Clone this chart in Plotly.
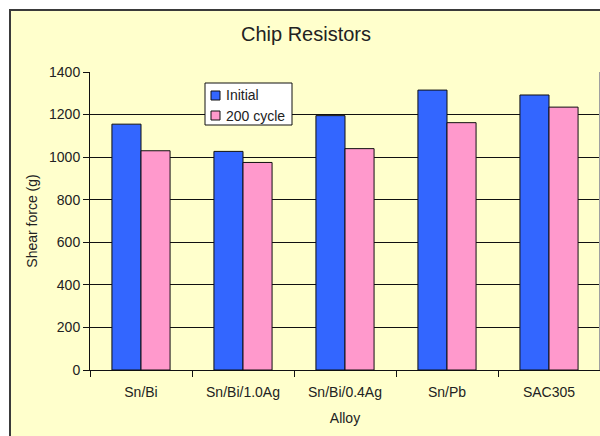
import plotly.graph_objects as go

# Shear force of chip resistor joints per solder alloy
alloys = ["Sn/Bi", "Sn/Bi/1.0Ag", "Sn/Bi/0.4Ag", "Sn/Pb", "SAC305"]
initial = [1155, 1027, 1195, 1315, 1292]
after_200_cycles = [1030, 975, 1040, 1162, 1235]
y_ticks = [0, 200, 400, 600, 800, 1000, 1200, 1400]
series_names = ["Initial", "200 cycle"]
series_colors = ["#3366FF", "#FF99CC"]

FONT = "Liberation Sans, Arial, sans-serif"
TEXT = "#222222"
EDGE = "#111111"

fig = go.Figure()
for name, vals, col in zip(series_names, [initial, after_200_cycles], series_colors):
    fig.add_trace(go.Bar(
        name=name, x=alloys, y=vals, showlegend=False,
        marker=dict(color=col, line=dict(color=EDGE, width=1)),
    ))

# Plot area geometry in pixels
L, T, W, H = 90, 72, 600, 436
BOTTOM = 370
PW, PH = W - L, BOTTOM - T


def px_x(p):
    return (p - L) / PW


def px_y(p):
    return (BOTTOM - p) / PH


shapes = [
    # yellow chart area with a dark frame
    dict(type="rect", xref="paper", yref="paper", layer="below",
         x0=px_x(10), x1=px_x(640), y0=px_y(480), y1=px_y(10),
         fillcolor="#FFFFCC", line=dict(color="#3a3a3a", width=2)),
    # thin grey right edge of the plot area
    dict(type="line", xref="paper", yref="paper", layer="above",
         x0=px_x(599.5), x1=px_x(599.5), y0=0, y1=1,
         line=dict(color="#a0a0a0", width=1)),
    # legend box
    dict(type="rect", xref="paper", yref="paper", layer="above",
         x0=px_x(205), x1=px_x(292), y0=px_y(125), y1=px_y(83),
         fillcolor="white", line=dict(color=EDGE, width=1)),
]
annotations = []
for i, (name, col) in enumerate(zip(series_names, series_colors)):
    top = 91 + 20 * i
    shapes.append(dict(
        type="rect", xref="paper", yref="paper", layer="above",
        x0=px_x(211), x1=px_x(220), y0=px_y(top + 9), y1=px_y(top),
        fillcolor=col, line=dict(color=EDGE, width=1)))
    annotations.append(dict(
        text=name, xref="paper", yref="paper", showarrow=False,
        x=px_x(224), y=px_y(top + 4.5), xanchor="left", yanchor="middle",
        font=dict(family=FONT, size=14, color=TEXT)))

fig.update_layout(
    width=W, height=H,
    margin=dict(l=L, r=0, t=T, b=H - BOTTOM, pad=0),
    paper_bgcolor="white",
    plot_bgcolor="white",
    barmode="group",
    bargap=0.43,
    bargroupgap=0,
    font=dict(family=FONT, size=14, color=TEXT),
    title=dict(
        text="Chip Resistors", x=px_x(306), xref="paper", xanchor="center",
        y=1 - 34 / H, yanchor="middle",
        font=dict(family=FONT, size=20, color=TEXT),
    ),
    shapes=shapes,
    annotations=annotations,
    showlegend=False,
)

fig.update_yaxes(
    range=[0, 1400], tickvals=y_ticks, ticks="outside", ticklen=6,
    tickcolor=EDGE, showline=True, linecolor=EDGE, linewidth=1,
    showgrid=True, gridcolor=EDGE, gridwidth=1, zeroline=False,
    tickfont=dict(family=FONT, size=14, color=TEXT),
    title=dict(text="Shear force (g)", standoff=8,
               font=dict(family=FONT, size=14, color=TEXT)),
)
fig.update_xaxes(
    ticks="outside", tickson="boundaries", ticklen=6, tickcolor=EDGE,
    showline=True, linecolor=EDGE, linewidth=1, showgrid=False,
    ticklabelstandoff=9,
    tickfont=dict(family=FONT, size=14, color=TEXT),
    title=dict(text="Alloy", standoff=14,
               font=dict(family=FONT, size=14, color=TEXT)),
)

fig.write_html("out.html")
